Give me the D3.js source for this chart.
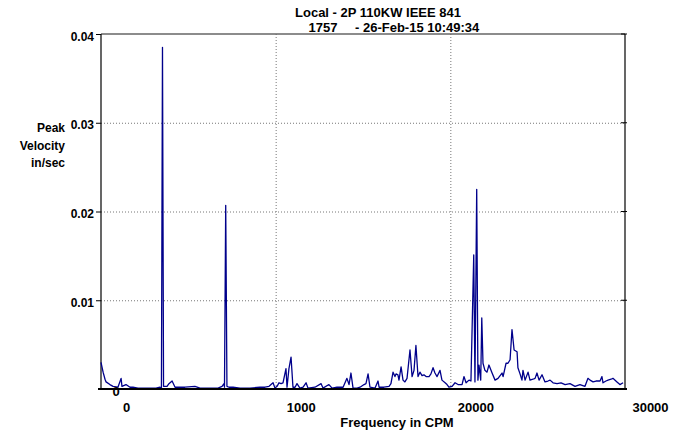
<!DOCTYPE html>
<html>
<head>
<meta charset="utf-8">
<script src="https://cdn.jsdelivr.net/npm/d3@7"></script>
<style>
  body { margin: 0; background: #fff; }
  svg { font-family: "Liberation Sans", Arial, sans-serif; font-weight: bold; }
  .grid line { stroke: #777; stroke-dasharray: 1,2; }
  .grid path { display: none; }
</style>
</head>
<body>
<div id="graph"></div>
<script>
// spectrum: frequency (CPM) and peak velocity (in/sec)
var spectrumFreq = [
  0, 120, 230, 290, 510, 690, 970, 1150, 1200, 1430, 1660, 1830, 2120, 2690, 3150, 3380,
  3460, 3520, 3580, 3780, 3890, 4070, 4240, 4520, 4810, 5380, 5670, 6300, 6700, 6930, 7040,
  7070, 7140, 7210, 7330, 7560, 7960, 8530, 9100, 9390, 9620, 9850, 9960, 10080, 10190,
  10310, 10420, 10590, 10650, 10760, 10880, 10990, 11110, 11220, 11390, 11570, 11740, 11850,
  12250, 12600, 12710, 13050, 13230, 13510, 13860, 14080, 14200, 14310, 14430, 14660, 14830,
  15060, 15170, 15290, 15400, 15690, 15860, 15920, 16200, 16490, 16600, 16720, 16830, 16890,
  17000, 17060, 17180, 17290, 17400, 17520, 17690, 17810, 17920, 18030, 18150, 18260, 18380,
  18490, 18610, 18780, 18890, 19010, 19120, 19240, 19410, 19520, 19700, 19810, 19920, 20100,
  20270, 20440, 20670, 20780, 20900, 21070, 21180, 21340, 21410, 21510, 21580, 21640, 21740,
  21800, 21870, 21980, 22100, 22210, 22390, 22560, 22730, 22960, 23020, 23190, 23300, 23420,
  23530, 23650, 23820, 23870, 23990, 24100, 24160, 24280, 24450, 24560, 24730, 24850, 24960,
  25080, 25250, 25420, 25590, 25710, 25880, 26110, 26340, 26570, 26850, 27140, 27420, 27710,
  27880, 28000, 28170, 28340, 28570, 28680, 28740, 28910, 29030, 29200, 29310, 29540, 29710,
  29890
];
var spectrumAmp = [
  .0030, .0019, .0011, .0008, .0005, .0003, .0002, .0012, .0003, .0005, .0002, .0002, .0001, .0001, .0001, .0002,
  .0001, .0385, .0003, .0003, .0006, .0009, .0002, .0002, .0002, .0003, .0001, .0001, .0001, .0003, .0006,
  .0002, .0207, .0003, .0002, .0002, .0001, .0001, .0002, .0002, .0003, .0007, .0001, .0003, .0007,
  .0006, .0007, .0023, .0002, .0023, .0036, .0002, .0002, .0006, .0001, .0002, .0007, .0001,
  .0002, .0006, .0001, .0005, .0001, .0002, .0002, .0012, .0005, .0018, .0001, .0001, .0002,
  .0005, .0006, .0017, .0002, .0001, .0009, .0002, .0002, .0003, .0006, .0019, .0014, .0017,
  .0016, .0010, .0025, .0010, .0008, .0012, .0044, .0014, .0021, .0049, .0014, .0019, .0015,
  .0016, .0014, .0014, .0017, .0024, .0018, .0014, .0021, .0010, .0007, .0005, .0002, .0003,
  .0007, .0005, .0005, .0014, .0007, .0010, .0009, .0151, .0008, .0225, .0010, .0027, .0010,
  .0080, .0029, .0021, .0019, .0027, .0018, .0010, .0012, .0018, .0014, .0029, .0029, .0033,
  .0067, .0044, .0042, .0024, .0017, .0010, .0021, .0010, .0019, .0010, .0011, .0012, .0018,
  .0010, .0016, .0008, .0009, .0010, .0007, .0006, .0007, .0005, .0006, .0003, .0005, .0003,
  .0012, .0010, .0008, .0009, .0009, .0014, .0007, .0009, .0010, .0011, .0012, .0008, .0005,
  .0007
];
var yTicks = [0.01, 0.02, 0.03, 0.04];
var xTicks = [0, 10000, 20000, 30000];
var xTickLabels = ["0", "1000", "20000", "30000"];
var titleLines = ["Local - 2P 110KW IEEE 841", "1757", "- 26-Feb-15 10:49:34"];

var margin = {top: 34, right: 58, bottom: 45, left: 101},
  width = 683 - margin.left - margin.right,
  height = 434 - margin.top - margin.bottom;

var x = d3.scaleLinear().domain([0, 30000]).range([0, width]);
var y = d3.scaleLinear().domain([0, 0.04]).range([height, 0]);

var root = d3.select('#graph').append('svg')
  .attr('width', 683)
  .attr('height', 434);

var svg = root.append('g')
  .attr('transform', 'translate(' + margin.left + ',' + margin.top + ')');

// grid lines
svg.append('g')
  .attr('class', 'grid')
  .call(d3.axisLeft(y).tickValues([0.01, 0.02, 0.03]).tickSize(-width).tickFormat(''));
svg.append('g')
  .attr('class', 'grid')
  .attr('transform', 'translate(0,' + height + ')')
  .call(d3.axisBottom(x).tickValues([10000, 20000]).tickSize(-height).tickFormat(''));

// frame
svg.append('line').attr('x1', 0).attr('x2', width).attr('y1', 0).attr('y2', 0)
  .attr('stroke', '#666').attr('stroke-width', 1.5);
svg.append('line').attr('x1', 0).attr('x2', 0).attr('y1', 0).attr('y2', height)
  .attr('stroke', '#000').attr('stroke-width', 1.2);
svg.append('line').attr('x1', width).attr('x2', width).attr('y1', 0).attr('y2', height)
  .attr('stroke', '#000').attr('stroke-width', 1.2);
svg.selectAll('.rtick')
  .data(yTicks)
  .enter()
  .append('line')
  .attr('x1', width - 4).attr('x2', width + 2)
  .attr('y1', function (d) { return y(d); })
  .attr('y2', function (d) { return y(d); })
  .attr('stroke', '#000');

// the spectrum
var line = d3.line()
  .x(function (d, i) { return x(spectrumFreq[i]); })
  .y(function (d) { return y(d); });
svg.append('path')
  .datum(spectrumAmp)
  .attr('fill', 'none')
  .attr('stroke', '#00008b')
  .attr('stroke-width', 1.3)
  .attr('stroke-linejoin', 'round')
  .attr('d', line);

// Y axis
var yAxis = svg.append('g')
  .call(d3.axisLeft(y).tickValues(yTicks).tickSize(5).tickPadding(2)
    .tickFormat(d3.format('.2f')));
yAxis.select('.domain').remove();
yAxis.selectAll('text').attr('font-size', 12).attr('font-weight', 'bold')
  .attr('font-family', '"Liberation Sans", Arial, sans-serif').attr('fill', '#000')
  .attr('dy', '0.5em');

// the odd "0" sitting on the baseline
svg.append('text')
  .attr('x', x(0) + 15)
  .attr('y', y(0) + 7)
  .attr('text-anchor', 'middle')
  .attr('font-size', 13)
  .text('0');

// X axis
var xAxis = svg.append('g')
  .attr('transform', 'translate(0,' + height + ')')
  .call(d3.axisBottom(x).tickValues(xTicks).tickSize(0).tickPadding(14)
    .tickFormat(function (d, i) { return xTickLabels[i]; }));
xAxis.select('.domain').remove();
xAxis.selectAll('text').attr('font-size', 13).attr('font-weight', 'bold')
  .attr('font-family', '"Liberation Sans", Arial, sans-serif').attr('fill', '#000')
  .attr('dx', 25);
svg.append('line').attr('x1', -3).attr('x2', width + 2).attr('y1', height).attr('y2', height)
  .attr('stroke', '#000').attr('stroke-width', 2);

// titles
root.append('text').attr('x', 378).attr('y', 17).attr('text-anchor', 'middle')
  .attr('font-size', 13).text(titleLines[0]);
root.append('text').attr('x', 323).attr('y', 32).attr('text-anchor', 'middle')
  .attr('font-size', 13).text(titleLines[1]);
root.append('text').attr('x', 355).attr('y', 32)
  .attr('font-size', 13).text(titleLines[2]);

var yLabel = root.append('text').attr('text-anchor', 'end').attr('font-size', 12);
['Peak', 'Velocity', 'in/sec'].forEach(function (t, i) {
  yLabel.append('tspan').attr('x', 65).attr('y', 132 + i * 17.5).text(t);
});

root.append('text').attr('x', 397).attr('y', 427).attr('text-anchor', 'middle')
  .attr('font-size', 13).text('Frequency in CPM');
</script>
</body>
</html>
